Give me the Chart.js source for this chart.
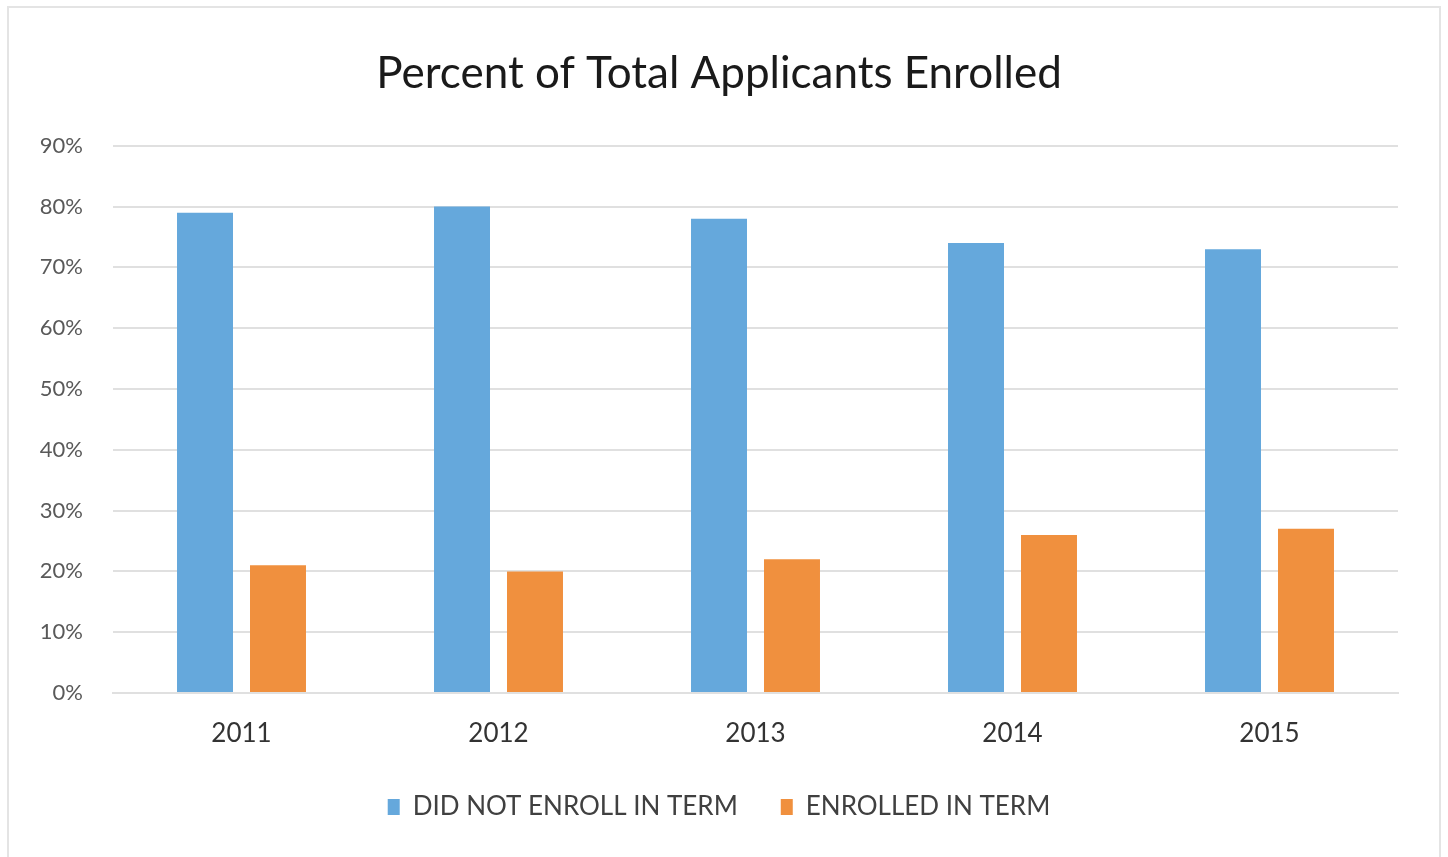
<!DOCTYPE html>
<html>
<head>
<meta charset="utf-8">
<script src="https://cdn.jsdelivr.net/npm/chart.js@4"></script>
<style>
  html, body { margin: 0; padding: 0; background: #ffffff; }
  #frame { position: absolute; left: 7px; top: 6px; width: 1434px; height: 860px;
           border: 2px solid #e4e4e4; box-sizing: border-box; }
  #wrap { position: absolute; left: 0; top: 0; width: 1448px; height: 857px; }
</style>
</head>
<body>
<div id="frame"></div>
<div id="wrap"><canvas id="c" width="1448" height="857"></canvas></div>
<script>
const categories = ['2011', '2012', '2013', '2014', '2015'];
const didNotEnroll = [79, 80, 78, 74, 73];
const enrolled = [21, 20, 22, 26, 27];
const seriesNames = ['DID NOT ENROLL IN TERM', 'ENROLLED IN TERM'];
const yTicks = [0, 10, 20, 30, 40, 50, 60, 70, 80, 90];

const FONT = 'Lato, "Open Sans", sans-serif';

new Chart(document.getElementById('c'), {
  type: 'bar',
  data: {
    labels: categories,
    datasets: [
      { label: seriesNames[0], data: didNotEnroll, backgroundColor: '#65a8dc',
        categoryPercentage: 0.568, barPercentage: 0.767 },
      { label: seriesNames[1], data: enrolled, backgroundColor: '#f0903e',
        categoryPercentage: 0.568, barPercentage: 0.767 }
    ]
  },
  options: {
    responsive: false,
    animation: false,
    devicePixelRatio: 1,
    layout: { padding: { left: 40, right: 50, top: 0, bottom: 27 } },
    plugins: {
      title: {
        display: true,
        text: 'Percent of Total Applicants Enrolled',
        color: '#1a1a1a',
        font: { family: FONT, size: 44, weight: 'normal' },
        padding: { top: 47, bottom: 46 }
      },
      legend: {
        display: true,
        position: 'bottom',
        labels: {
          color: '#404040',
          font: { family: FONT, size: 26 },
          boxWidth: 12,
          boxHeight: 16,
          padding: 43
        }
      },
      tooltip: { enabled: false }
    },
    scales: {
      x: {
        afterFit: (axis) => { axis.height = 58; },
        grid: { display: false, drawTicks: false },
        border: { display: true, color: '#e0e0e0', width: 2 },
        ticks: { color: '#333333', font: { family: FONT, size: 26 }, padding: 25 }
      },
      y: {
        min: 0, max: 90,
        afterBuildTicks: (axis) => { axis.ticks = yTicks.map(v => ({ value: v })); },
        afterFit: (axis) => { axis.width = 73; },
        grid: { color: '#e0e0e0', lineWidth: 2, drawTicks: false },
        border: { display: false },
        ticks: { color: '#595959', font: { family: FONT, size: 22 }, padding: 30,
                 callback: (v) => v + '%' }
      }
    }
  }
});
</script>
</body>
</html>
